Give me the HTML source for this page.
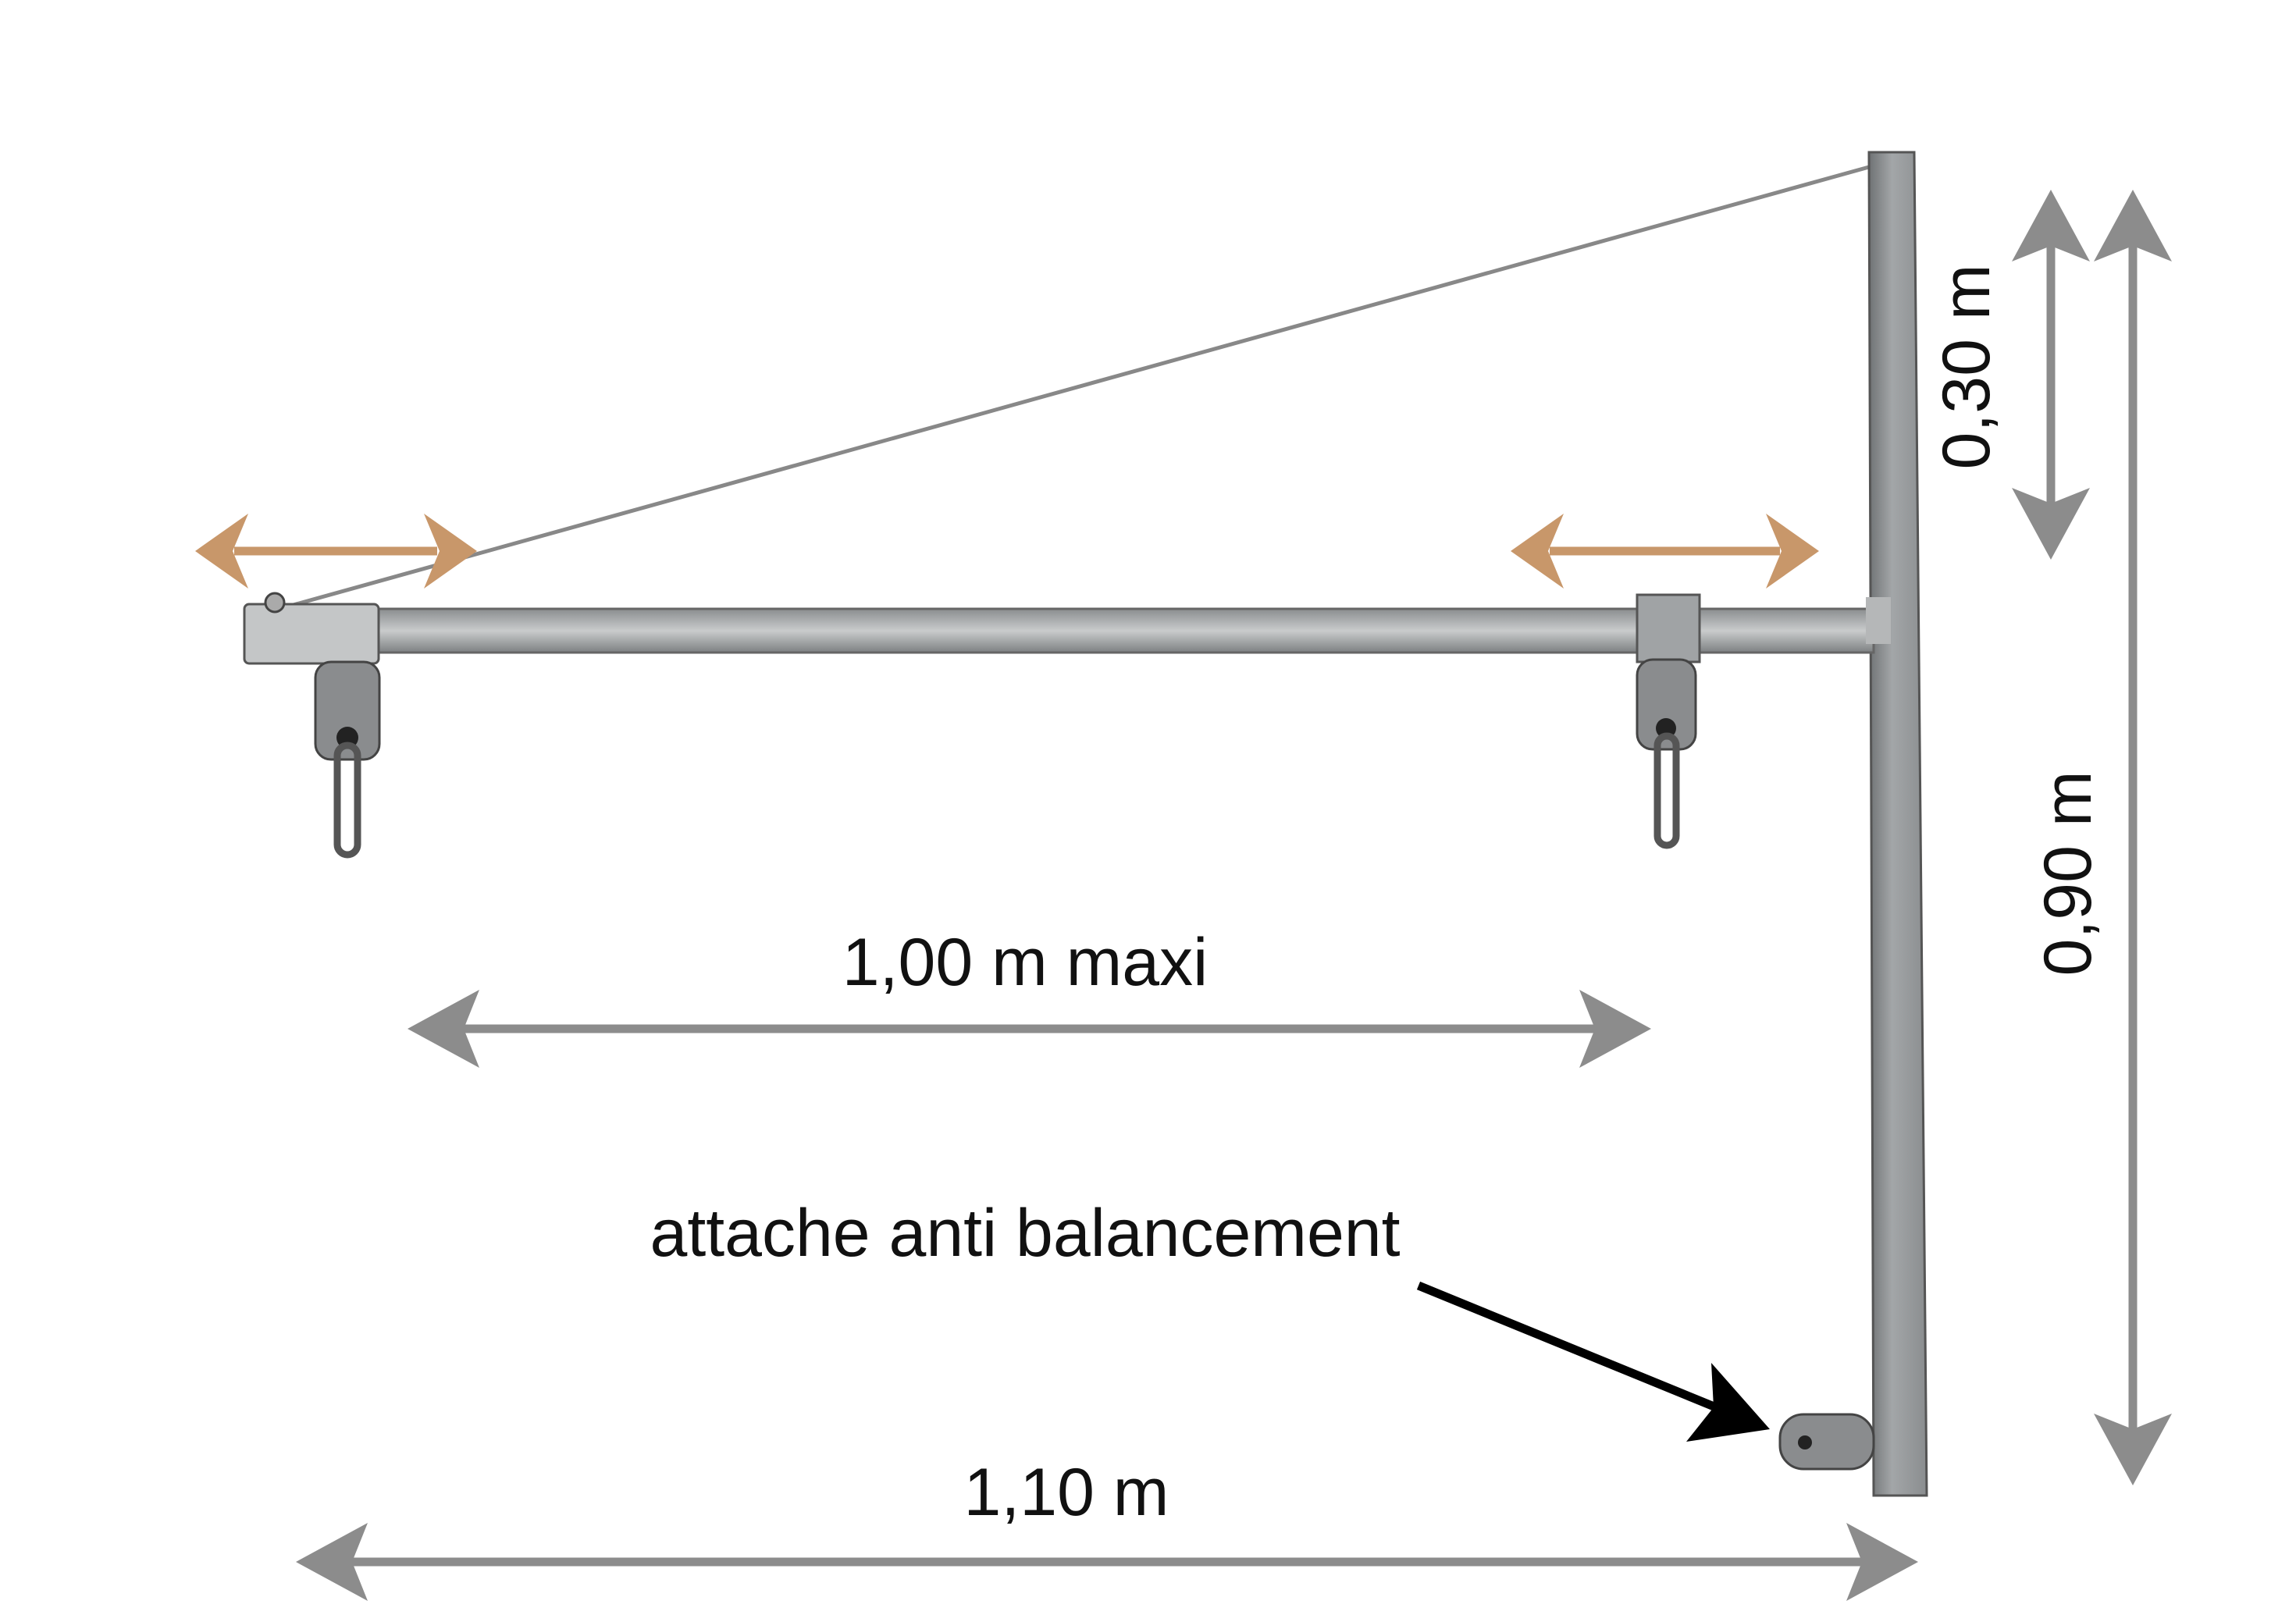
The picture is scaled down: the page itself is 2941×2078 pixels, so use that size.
<!DOCTYPE html>
<html><head><meta charset="utf-8"><style>
html,body{margin:0;padding:0;background:#fff;}
svg{display:block;}
text{font-family:"Liberation Sans",sans-serif;fill:#111;}
</style></head><body>
<svg width="2941" height="2078" viewBox="0 0 2941 2078" xmlns="http://www.w3.org/2000/svg">
<defs>
<linearGradient id="bar" x1="0" y1="0" x2="0" y2="1">
<stop offset="0" stop-color="#8a8d8f"/><stop offset="0.5" stop-color="#c9cbcc"/><stop offset="1" stop-color="#7d8082"/>
</linearGradient>
<linearGradient id="post" x1="0" y1="0" x2="1" y2="0">
<stop offset="0" stop-color="#6f7274"/><stop offset="0.4" stop-color="#a3a6a8"/><stop offset="1" stop-color="#8a8d8f"/>
</linearGradient>
</defs>
<line x1="365" y1="778" x2="2394" y2="214" stroke="#888" stroke-width="5"/>
<polygon points="2394,195 2452,195 2468,1916 2400,1916" fill="url(#post)" stroke="#555" stroke-width="3"/>
<rect x="420" y="780" width="1980" height="56" fill="url(#bar)" stroke="#666" stroke-width="3"/>
<rect x="2390" y="765" width="32" height="60" fill="#b5b7b8"/>
<rect x="313" y="774" width="172" height="76" rx="6" fill="#c4c6c7" stroke="#555" stroke-width="3"/>
<circle cx="352" cy="772" r="12" fill="#aaa" stroke="#444" stroke-width="3"/>
<rect x="404" y="848" width="82" height="125" rx="20" fill="#8a8c8e" stroke="#444" stroke-width="3"/>
<circle cx="445" cy="945" r="14" fill="#222"/>
<rect x="432" y="955" width="26" height="140" rx="13" fill="none" stroke="#555" stroke-width="9"/>
<rect x="2097" y="762" width="80" height="86" fill="#a0a3a5" stroke="#555" stroke-width="3"/>
<rect x="2097" y="845" width="75" height="115" rx="20" fill="#8a8c8e" stroke="#444" stroke-width="3"/>
<circle cx="2134" cy="933" r="13" fill="#222"/>
<rect x="2123" y="943" width="24" height="140" rx="12" fill="none" stroke="#555" stroke-width="9"/>
<rect x="2280" y="1812" width="120" height="70" rx="30" fill="#8a8c8e" stroke="#444" stroke-width="3"/>
<circle cx="2312" cy="1848" r="9" fill="#222"/>
<g fill="#c8976a" stroke="#c8976a">
<line x1="300" y1="706" x2="560" y2="706" stroke-width="11"/>
<polygon points="250,706 318,658 298,706 318,754" stroke="none"/>
<polygon points="611,706 543,658 563,706 543,754" stroke="none"/>
<line x1="1985" y1="706" x2="2280" y2="706" stroke-width="11"/>
<polygon points="1935,706 2003,658 1983,706 2003,754" stroke="none"/>
<polygon points="2330,706 2262,658 2282,706 2262,754" stroke="none"/>
</g>
<g fill="#8c8c8c" stroke="#8c8c8c">
<line x1="2627" y1="300" x2="2627" y2="660" stroke-width="11"/>
<polygon points="2627,243 2577,335 2627,315 2677,335" stroke="none"/>
<polygon points="2627,717 2577,625 2627,645 2677,625" stroke="none"/>
<line x1="2732" y1="300" x2="2732" y2="1845" stroke-width="11"/>
<polygon points="2732,243 2682,335 2732,315 2782,335" stroke="none"/>
<polygon points="2732,1903 2682,1811 2732,1831 2782,1811" stroke="none"/>
<line x1="580" y1="1318" x2="2060" y2="1318" stroke-width="11"/>
<polygon points="522,1318 614,1268 594,1318 614,1368" stroke="none"/>
<polygon points="2115,1318 2023,1268 2043,1318 2023,1368" stroke="none"/>
<line x1="435" y1="2001" x2="2400" y2="2001" stroke-width="11"/>
<polygon points="379,2001 471,1951 451,2001 471,2051" stroke="none"/>
<polygon points="2457,2001 2365,1951 2385,2001 2365,2051" stroke="none"/>
</g>
<line x1="1817" y1="1647" x2="2220" y2="1812" stroke="#000" stroke-width="11"/>
<polygon points="2267,1831 2160,1847 2195,1803 2192,1746" fill="#000"/>
<text x="1313" y="1262" font-size="86" text-anchor="middle">1,00 m maxi</text>
<text x="1313" y="1609" font-size="86" text-anchor="middle">attache anti balancement</text>
<text x="1366" y="1941" font-size="86" text-anchor="middle">1,10 m</text>
<text x="0" y="0" font-size="86" text-anchor="middle" transform="translate(2548,470) rotate(-90)">0,30 m</text>
<text x="0" y="0" font-size="86" text-anchor="middle" transform="translate(2678,1119) rotate(-90)">0,90 m</text>
</svg>
</body></html>
